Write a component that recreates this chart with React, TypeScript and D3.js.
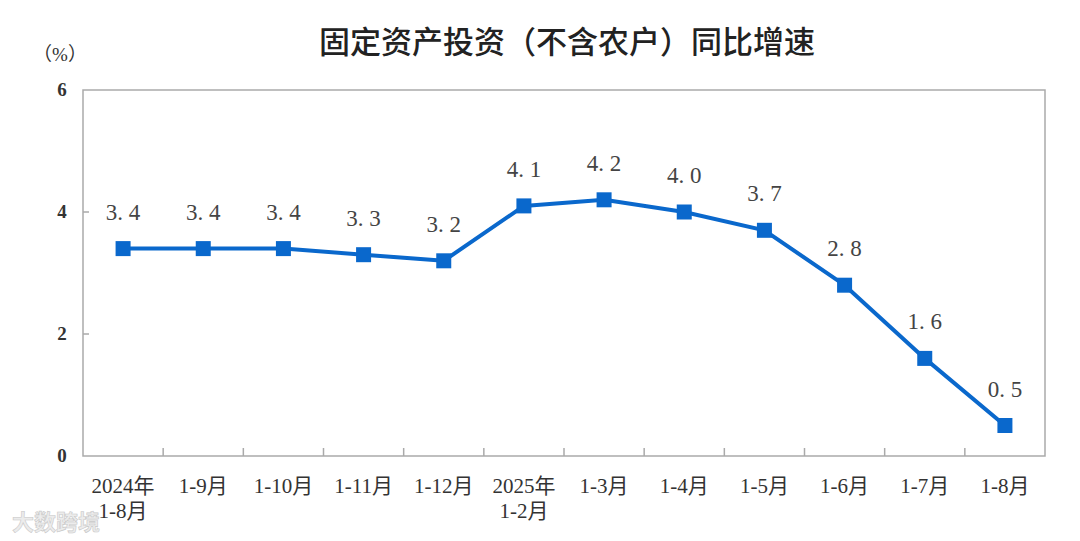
import React from "react";
import * as d3 from "d3";

const categories: string[][] = [
  ["2024年", "1-8月"],
  ["1-9月"],
  ["1-10月"],
  ["1-11月"],
  ["1-12月"],
  ["2025年", "1-2月"],
  ["1-3月"],
  ["1-4月"],
  ["1-5月"],
  ["1-6月"],
  ["1-7月"],
  ["1-8月"],
];
const values: number[] = [3.4, 3.4, 3.4, 3.3, 3.2, 4.1, 4.2, 4.0, 3.7, 2.8, 1.6, 0.5];
const yTicks: number[] = [0, 2, 4, 6];
const title = "固定资产投资（不含农户）同比增速";
const unit = "（%）";

const W = 1080;
const H = 541;
const left = 83;
const right = 1045;
const top = 90;
const bottom = 456;

export default function App() {
  const keys = categories.map((_, i) => String(i));
  const x = d3.scaleBand<string>().domain(keys).range([left, right]).padding(0);
  const y = d3.scaleLinear().domain([0, 6]).range([bottom, top]);
  const line = d3
    .line<number>()
    .x((_, i) => (x(String(i)) as number) + x.bandwidth() / 2)
    .y((d) => y(d));
  const serif = "'Liberation Serif', 'DejaVu Serif', 'Noto Sans CJK SC', serif";
  const sans = "'Noto Sans CJK SC', sans-serif";
  const blue = "#0a68cc";
  const axisColor = "#aaaaaa";
  return (
    <svg
      width={W}
      height={H}
      style={{ position: "absolute", left: 0, top: 0, background: "#fff" }}
    >
      <rect x={0} y={0} width={W} height={H} fill="#fff" />
      <text
        x={567}
        y={53}
        textAnchor="middle"
        fontFamily={sans}
        fontSize={31}
        fontWeight={500}
        fill="#222"
      >
        {title}
      </text>
      <text x={60} y={61} textAnchor="middle" fontFamily={serif} fontSize={19} fill="#333">
        {unit}
      </text>
      <rect
        x={left}
        y={top}
        width={right - left}
        height={bottom - top}
        fill="none"
        stroke={axisColor}
        strokeWidth={1.5}
      />
      {yTicks.map((t) => (
        <g key={t}>
          {t > 0 && t < 6 && (
            <line x1={left} x2={left + 6} y1={y(t)} y2={y(t)} stroke={axisColor} strokeWidth={1.5} />
          )}
          <text
            x={62}
            y={y(t) + 6}
            textAnchor="middle"
            fontFamily={serif}
            fontWeight="bold"
            fontSize={19}
            fill="#333"
          >
            {t}
          </text>
        </g>
      ))}
      {keys.slice(1).map((k) => (
        <line
          key={k}
          x1={x(k) as number}
          x2={x(k) as number}
          y1={bottom}
          y2={bottom - 8}
          stroke={axisColor}
          strokeWidth={1.5}
        />
      ))}
      {categories.map((lines, i) => {
        const cx = (x(String(i)) as number) + x.bandwidth() / 2;
        return (
          <text
            key={i}
            x={cx}
            y={493}
            textAnchor="middle"
            fontFamily={serif}
            fontSize={21}
            fill="#333"
          >
            {lines.map((l, j) => (
              <tspan key={j} x={cx} dy={j === 0 ? 0 : 25}>
                {l}
              </tspan>
            ))}
          </text>
        );
      })}
      <path d={line(values) || ""} fill="none" stroke={blue} strokeWidth={4} strokeLinejoin="round" />
      {values.map((v, i) => {
        const cx = (x(String(i)) as number) + x.bandwidth() / 2;
        const cy = y(v);
        return (
          <g key={i}>
            <rect x={cx - 7.5} y={cy - 7.5} width={15} height={15} fill={blue} />
            <text
              x={cx}
              y={cy - 29}
              textAnchor="middle"
              fontFamily={serif}
              fontSize={23}
              fill="#444"
            >
              {v.toFixed(1).replace(".", ". ")}
            </text>
          </g>
        );
      })}
      <text
        x={12}
        y={530}
        fontFamily={sans}
        fontSize={22}
        fontWeight="bold"
        fill="#e8e8e8"
        stroke="#bbb"
        strokeWidth={0.6}
        opacity={0.8}
      >
        大数跨境
      </text>
    </svg>
  );
}
